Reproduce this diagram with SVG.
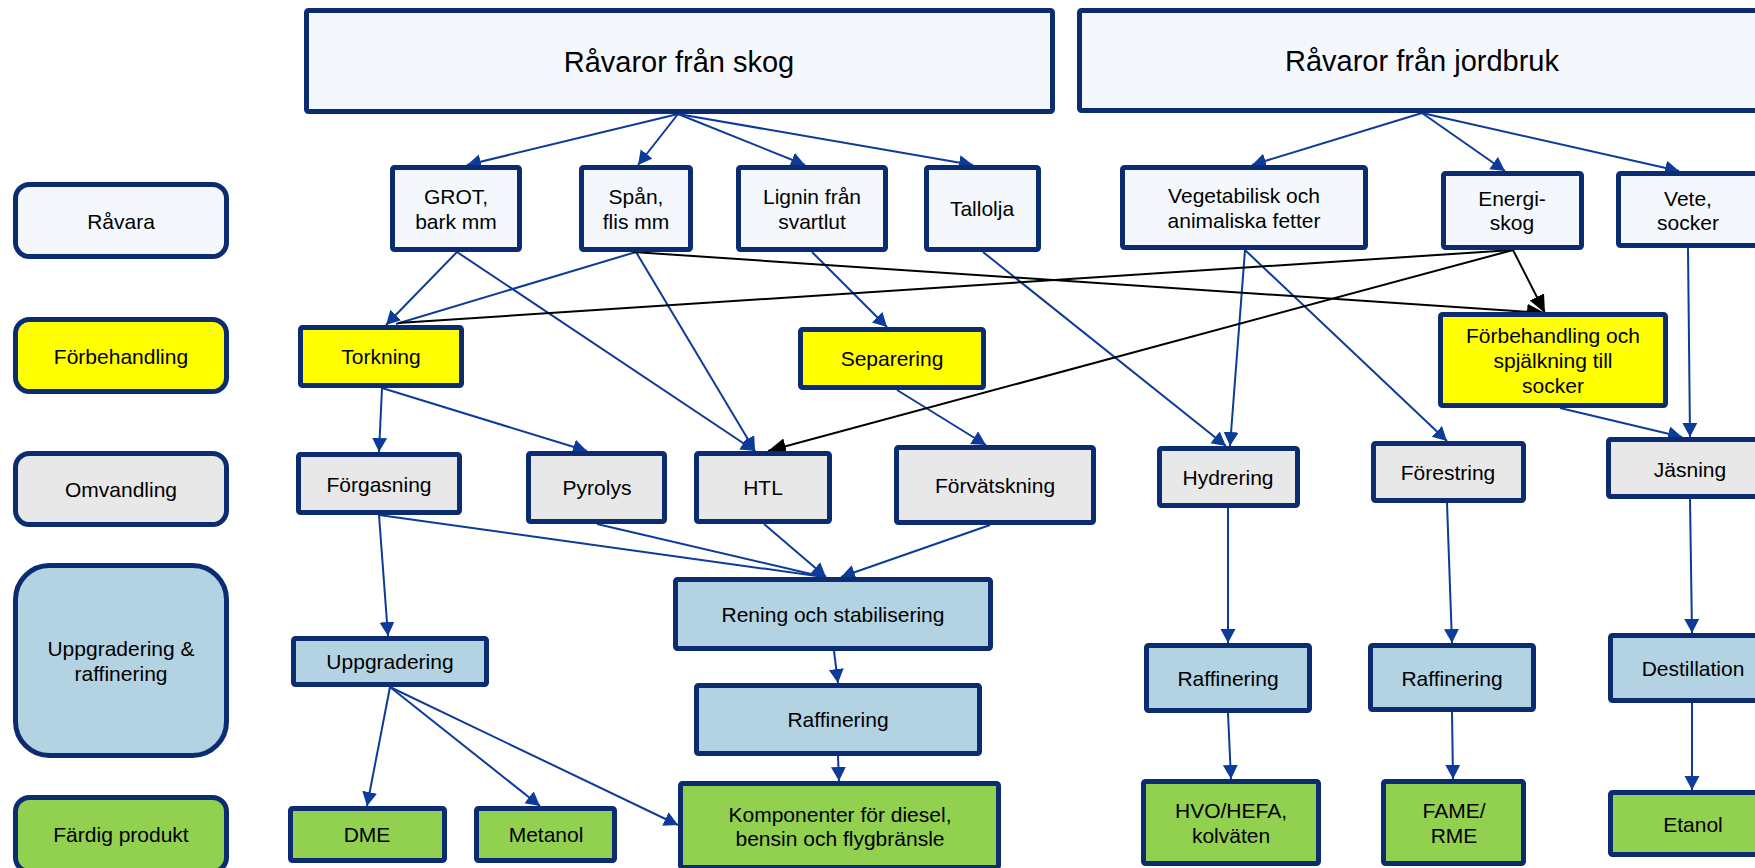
<svg xmlns="http://www.w3.org/2000/svg" width="1755" height="868" viewBox="0 0 1755 868">
<defs>
<style>
.n{stroke:#0B2C70;stroke-width:5;}
.w{fill:#F4F8FC;}
.y{fill:#FFFF00;}
.g{fill:#E8E8E8;}
.b{fill:#B3D3E3;}
.gr{fill:#92D050;}
text{font-family:"Liberation Sans",Arial,sans-serif;font-size:21px;fill:#000;text-anchor:middle;}
.big{font-size:29px;}
.c{stroke:#0D3B9A;stroke-width:2;fill:none;}
.k{stroke:#000;stroke-width:2;fill:none;}
.a{marker-end:url(#ab);}
.ak{marker-end:url(#ak);}
</style>
<marker id="ab" markerUnits="userSpaceOnUse" markerWidth="16" markerHeight="16" refX="14" refY="7.5" orient="auto"><path d="M0,0 L14,7.5 L0,15 z" fill="#0D3B9A"/></marker>
<marker id="ak" markerUnits="userSpaceOnUse" markerWidth="20" markerHeight="18" refX="18" refY="8" orient="auto"><path d="M0,0 L18,8 L0,16 z" fill="#000"/></marker>
</defs>
<rect width="1755" height="868" fill="#fff"/>

<g id="labels">
<g id="lbl-ravara"><rect class="n w" x="15.5" y="184.5" width="211" height="72" rx="14"/><text x="121" y="229">Råvara</text></g>
<g id="lbl-forbehandling"><rect class="n y" x="15.5" y="319.5" width="211" height="72" rx="14"/><text x="121" y="364">Förbehandling</text></g>
<g id="lbl-omvandling"><rect class="n g" x="15.5" y="453.5" width="211" height="71" rx="14"/><text x="121" y="497">Omvandling</text></g>
<g id="lbl-uppgradering"><rect class="n b" x="15.5" y="565.5" width="211" height="190" rx="34"/><text x="121" y="656">Uppgradering &amp;</text><text x="121" y="681">raffinering</text></g>
<g id="lbl-fardig"><rect class="n gr" x="15.5" y="797.5" width="211" height="74" rx="14"/><text x="121" y="842">Färdig produkt</text></g>
</g>

<g id="connectors">
<line class="c a" x1="678" y1="114" x2="467" y2="165"/>
<line class="c a" x1="678" y1="114" x2="638" y2="165"/>
<line class="c a" x1="678" y1="114" x2="805" y2="165"/>
<line class="c a" x1="678" y1="114" x2="973" y2="165"/>
<line class="c a" x1="1422" y1="113" x2="1252" y2="165"/>
<line class="c a" x1="1422" y1="113" x2="1505" y2="171"/>
<line class="c a" x1="1422" y1="113" x2="1679" y2="171"/>
<line class="c a" x1="457" y1="252" x2="386" y2="325"/>
<line class="c" x1="636" y1="252" x2="396" y2="324"/>
<line class="c a" x1="457" y1="252" x2="755" y2="451"/>
<line class="c a" x1="636" y1="252" x2="755" y2="451"/>
<line class="c a" x1="812" y1="252" x2="887" y2="327"/>
<line class="c a" x1="983" y1="252" x2="1226" y2="446"/>
<line class="c a" x1="1245" y1="250" x2="1230" y2="446"/>
<line class="c a" x1="1245" y1="250" x2="1447" y2="441"/>
<line class="c a" x1="1688" y1="248" x2="1690" y2="437"/>
<line class="c a" x1="1560" y1="408" x2="1682" y2="437"/>
<line class="c a" x1="382" y1="388" x2="379" y2="452"/>
<line class="c a" x1="382" y1="388" x2="587" y2="451"/>
<line class="c a" x1="897" y1="390" x2="986" y2="445"/>
<line class="c a" x1="379" y1="515" x2="388" y2="636"/>
<line class="c" x1="379" y1="515" x2="824" y2="577"/>
<line class="c" x1="597" y1="524" x2="824" y2="577"/>
<line class="c a" x1="764" y1="524" x2="826" y2="577"/>
<line class="c a" x1="990" y1="525" x2="841" y2="577"/>
<line class="c a" x1="834" y1="651" x2="838" y2="683"/>
<line class="c a" x1="838" y1="756" x2="839" y2="781"/>
<line class="c a" x1="390" y1="687" x2="367" y2="806"/>
<line class="c a" x1="390" y1="687" x2="540" y2="806"/>
<line class="c a" x1="390" y1="687" x2="678" y2="825"/>
<line class="c a" x1="1228" y1="508" x2="1228" y2="643"/>
<line class="c a" x1="1228" y1="713" x2="1231" y2="779"/>
<line class="c a" x1="1447" y1="503" x2="1452" y2="643"/>
<line class="c a" x1="1452" y1="712" x2="1453" y2="779"/>
<line class="c a" x1="1690" y1="499" x2="1692" y2="633"/>
<line class="c a" x1="1692" y1="703" x2="1692" y2="790"/>
<line class="k ak" x1="633" y1="252" x2="1545" y2="313"/>
<line class="k ak" x1="1513" y1="250" x2="1545" y2="313"/>
<line class="k ak" x1="1513" y1="250" x2="768" y2="451"/>
<line class="k" x1="1513" y1="250" x2="398" y2="323"/>
</g>

<g id="n-skog"><rect class="n w" x="306.5" y="10.5" width="746" height="101" rx="2"/><text class="big" x="679" y="72">Råvaror från skog</text></g>
<g id="n-jordbruk"><rect class="n w" x="1079.5" y="10.5" width="700" height="100" rx="2"/><text class="big" x="1422" y="71">Råvaror från jordbruk</text></g>
<g id="n-grot"><rect class="n w" x="392.5" y="167.5" width="127" height="82" rx="2"/><text x="456" y="204">GROT,</text><text x="456" y="229">bark mm</text></g>
<g id="n-span"><rect class="n w" x="581.5" y="167.5" width="109" height="82" rx="2"/><text x="636" y="204">Spån,</text><text x="636" y="229">flis mm</text></g>
<g id="n-lignin"><rect class="n w" x="738.5" y="167.5" width="147" height="82" rx="2"/><text x="812" y="204">Lignin från</text><text x="812" y="229">svartlut</text></g>
<g id="n-tallolja"><rect class="n w" x="926.5" y="167.5" width="112" height="82" rx="2"/><text x="982" y="216">Tallolja</text></g>
<g id="n-veg"><rect class="n w" x="1122.5" y="167.5" width="243" height="80" rx="2"/><text x="1244" y="203">Vegetabilisk och</text><text x="1244" y="228">animaliska fetter</text></g>
<g id="n-energi"><rect class="n w" x="1443.5" y="173.5" width="138" height="74" rx="2"/><text x="1512" y="206">Energi-</text><text x="1512" y="230">skog</text></g>
<g id="n-vete"><rect class="n w" x="1618.5" y="173.5" width="160" height="72" rx="2"/><text x="1688" y="206">Vete,</text><text x="1688" y="230">socker</text></g>
<g id="n-torkning"><rect class="n y" x="300.5" y="327.5" width="161" height="58" rx="2"/><text x="381" y="364">Torkning</text></g>
<g id="n-separering"><rect class="n y" x="800.5" y="329.5" width="183" height="58" rx="2"/><text x="892" y="366">Separering</text></g>
<g id="n-forbeh"><rect class="n y" x="1440.5" y="314.5" width="225" height="91" rx="2"/><text x="1553" y="343">Förbehandling och</text><text x="1553" y="368">spjälkning till</text><text x="1553" y="393">socker</text></g>
<g id="n-forgasning"><rect class="n g" x="298.5" y="454.5" width="161" height="58" rx="2"/><text x="379" y="492">Förgasning</text></g>
<g id="n-pyrolys"><rect class="n g" x="528.5" y="453.5" width="136" height="68" rx="2"/><text x="597" y="495">Pyrolys</text></g>
<g id="n-htl"><rect class="n g" x="696.5" y="453.5" width="133" height="68" rx="2"/><text x="763" y="495">HTL</text></g>
<g id="n-forvatskning"><rect class="n g" x="896.5" y="447.5" width="197" height="75" rx="2"/><text x="995" y="493">Förvätskning</text></g>
<g id="n-hydrering"><rect class="n g" x="1159.5" y="448.5" width="138" height="57" rx="2"/><text x="1228" y="485">Hydrering</text></g>
<g id="n-forestring"><rect class="n g" x="1373.5" y="443.5" width="150" height="57" rx="2"/><text x="1448" y="480">Förestring</text></g>
<g id="n-jasning"><rect class="n g" x="1608.5" y="439.5" width="170" height="57" rx="2"/><text x="1690" y="477">Jäsning</text></g>
<g id="n-rening"><rect class="n b" x="675.5" y="579.5" width="315" height="69" rx="2"/><text x="833" y="622">Rening och stabilisering</text></g>
<g id="n-uppgradering"><rect class="n b" x="293.5" y="638.5" width="193" height="46" rx="2"/><text x="390" y="669">Uppgradering</text></g>
<g id="n-raffmid"><rect class="n b" x="696.5" y="685.5" width="283" height="68" rx="2"/><text x="838" y="727">Raffinering</text></g>
<g id="n-raff1"><rect class="n b" x="1146.5" y="645.5" width="163" height="65" rx="2"/><text x="1228" y="686">Raffinering</text></g>
<g id="n-raff2"><rect class="n b" x="1370.5" y="645.5" width="163" height="64" rx="2"/><text x="1452" y="686">Raffinering</text></g>
<g id="n-destillation"><rect class="n b" x="1610.5" y="635.5" width="170" height="65" rx="2"/><text x="1693" y="676">Destillation</text></g>
<g id="n-dme"><rect class="n gr" x="290.5" y="808.5" width="154" height="52" rx="2"/><text x="367" y="842">DME</text></g>
<g id="n-metanol"><rect class="n gr" x="476.5" y="808.5" width="138" height="52" rx="2"/><text x="546" y="842">Metanol</text></g>
<g id="n-komponenter"><rect class="n gr" x="680.5" y="783.5" width="318" height="84" rx="2"/><text x="840" y="822">Komponenter för diesel,</text><text x="840" y="846">bensin och flygbränsle</text></g>
<g id="n-hvo"><rect class="n gr" x="1143.5" y="781.5" width="175" height="82" rx="2"/><text x="1231" y="818">HVO/HEFA,</text><text x="1231" y="843">kolväten</text></g>
<g id="n-fame"><rect class="n gr" x="1383.5" y="781.5" width="140" height="82" rx="2"/><text x="1454" y="818">FAME/</text><text x="1454" y="843">RME</text></g>
<g id="n-etanol"><rect class="n gr" x="1610.5" y="792.5" width="170" height="62" rx="2"/><text x="1693" y="832">Etanol</text></g>
</svg>
